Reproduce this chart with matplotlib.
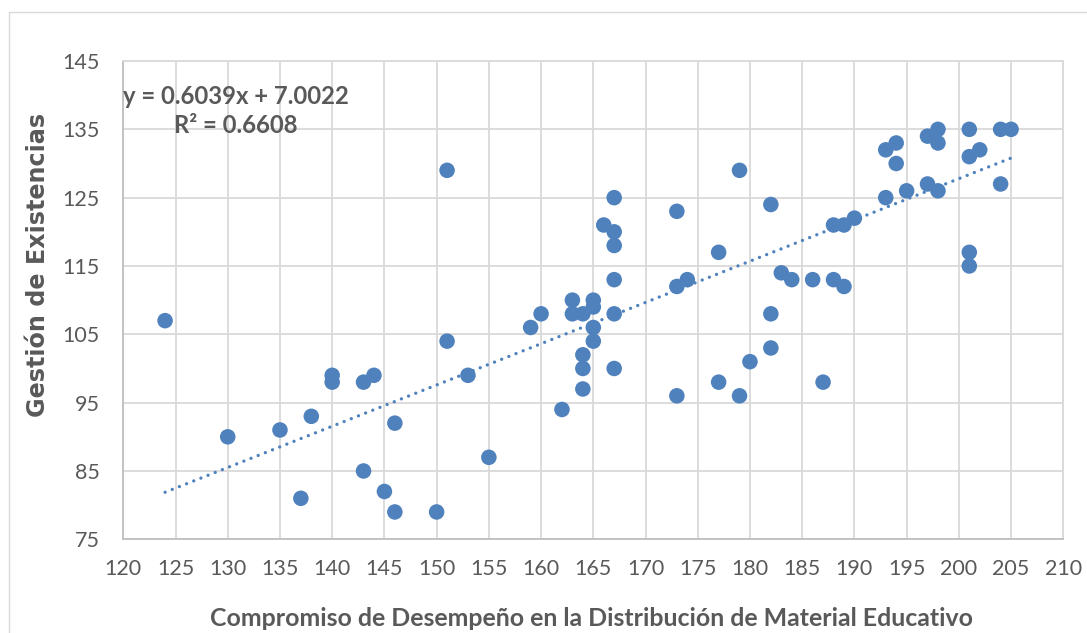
import matplotlib
matplotlib.use("Agg")
import matplotlib.pyplot as plt
from matplotlib.patches import Rectangle
import numpy as np

# Data (x: Compromiso de Desempeño, y: Gestión de Existencias)
x_vals = [124, 130, 135, 137, 138, 140, 140, 143, 143, 144, 145, 146, 146, 150,
          151, 151, 153, 155, 159, 160, 162, 163, 163, 164, 164, 164, 164, 165,
          165, 165, 165, 166, 167, 167, 167, 167, 167, 167, 173, 173, 173, 174,
          177, 177, 179, 179, 180, 182, 182, 182, 183, 184, 186, 187, 188, 188,
          189, 189, 190, 193, 193, 194, 194, 195, 197, 197, 198, 198, 198, 201,
          201, 201, 201, 202, 204, 204, 205]
y_vals = [107, 90, 91, 81, 93, 99, 98, 98, 85, 99, 82, 92, 79, 79,
          129, 104, 99, 87, 106, 108, 94, 110, 108, 108, 102, 100, 97, 110,
          109, 106, 104, 121, 125, 120, 118, 113, 108, 100, 123, 112, 96, 113,
          117, 98, 129, 96, 101, 124, 108, 103, 114, 113, 113, 98, 121, 113,
          121, 112, 122, 132, 125, 133, 130, 126, 134, 127, 135, 133, 126, 135,
          131, 117, 115, 132, 135, 127, 135]

slope = 0.6039
intercept = 7.0022
r_squared = 0.6608

x_ticks = list(range(120, 211, 5))
y_ticks = list(range(75, 146, 10))

x_label = "Compromiso de Desempeño en la Distribución de Material Educativo"
y_label = "Gestión de Existencias"

blue = "#4F81BD"
grey_text = "#595959"
grid_col = "#D9D9D9"

W, H = 1087, 633
fig = plt.figure(figsize=(W / 100, H / 100), dpi=100)

# chart outer frame (clipped at right/bottom as in reference)
fig.patches.append(Rectangle((9 / W, -0.1), 1.5, 1 - 12 / H + 0.1,
                             transform=fig.transFigure, fill=False,
                             edgecolor=grid_col, lw=1.0))

left, right, top, bottom = 123.3, 1063.3, 61, 539.3
ax = fig.add_axes([left / W, 1 - bottom / H, (right - left) / W, (bottom - top) / H])

ax.set_xlim(120, 210)
ax.set_ylim(75, 145)
ax.set_xticks(x_ticks)
ax.set_yticks(y_ticks)
ax.grid(True, color=grid_col, lw=1.3)
ax.set_axisbelow(True)
for side in ["top", "right"]:
    ax.spines[side].set_color(grid_col)
    ax.spines[side].set_linewidth(1.3)
for side in ["left", "bottom"]:
    ax.spines[side].set_color("#BFBFBF")
    ax.spines[side].set_linewidth(1.3)

ax.tick_params(length=0, labelsize=15.5, labelcolor=grey_text)
ax.tick_params(axis="y", pad=17)
ax.tick_params(axis="x", pad=14)
for lab in ax.get_xticklabels() + ax.get_yticklabels():
    lab.set_family("Lato")

ax.scatter(x_vals, y_vals, s=125, color=blue, edgecolors="none", zorder=3)

tx = np.array([min(x_vals), max(x_vals)])
ax.plot(tx, slope * tx + intercept, color=blue, lw=2.4,
        linestyle=(0, (0.01, 2.3)), dash_capstyle="round", zorder=2)

fig.text(236 / W, 1 - 111 / H,
         f"y = {slope:.4f}x + {intercept:.4f}\nR² = {r_squared:.4f}",
         ha="center", va="center", fontsize=17.2, fontweight="bold",
         color=grey_text, family="Lato", linespacing=1.35)

fig.text(592 / W, 1 - 618 / H, x_label, ha="center", va="center",
         fontsize=17.9, fontweight="bold", color=grey_text, family="Lato")
fig.text(38 / W, 1 - 265 / H, y_label, ha="center", va="center", rotation=90,
         fontsize=17.2, fontweight="bold", color=grey_text, family="DejaVu Sans")

fig.savefig("out.png", dpi=100)
